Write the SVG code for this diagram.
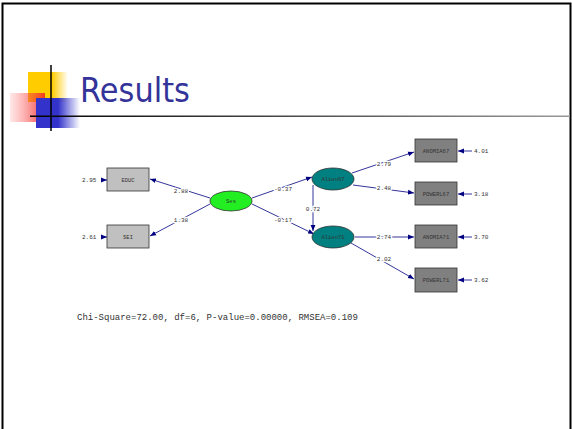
<svg xmlns="http://www.w3.org/2000/svg" width="572" height="429" viewBox="0 0 572 429">
<defs>
<linearGradient id="gy" x1="0" x2="1" y1="0" y2="0"><stop offset="0" stop-color="#ffcc00"/><stop offset="0.6" stop-color="#ffcc00"/><stop offset="1" stop-color="#ffcc00" stop-opacity="0"/></linearGradient>
<linearGradient id="gr" x1="0" x2="1" y1="0" y2="0"><stop offset="0" stop-color="#ff6666" stop-opacity="0.15"/><stop offset="1" stop-color="#ee2222" stop-opacity="0.85"/></linearGradient>
<linearGradient id="gb" x1="0" x2="1" y1="0" y2="0"><stop offset="0" stop-color="#3333cc"/><stop offset="0.5" stop-color="#3333cc"/><stop offset="1" stop-color="#3333cc" stop-opacity="0"/></linearGradient>
<linearGradient id="gl" x1="0" x2="1" y1="0" y2="0"><stop offset="0" stop-color="#000"/><stop offset="1" stop-color="#999"/></linearGradient>
<marker id="ah" viewBox="0 0 10 10" refX="10" refY="5" markerWidth="6" markerHeight="6" orient="auto" markerUnits="userSpaceOnUse"><path d="M0,1 L10,5 L0,9 z" fill="#000080"/></marker>
<style>
.lbl{font-family:"Liberation Mono",monospace;font-size:5.5px;fill:#333;text-anchor:middle}
.pl{font-family:"Liberation Mono",monospace;font-size:6px;fill:#333;text-anchor:middle;stroke:#fff;stroke-width:2.5px;paint-order:stroke}
.err{font-family:"Liberation Mono",monospace;font-size:6px;fill:#333}
.c line{stroke:#000080;stroke-width:0.8;marker-end:url(#ah)}
.bl{fill:#c0c0c0;stroke:#333;stroke-width:0.8}
.bd{fill:#808080;stroke:#333;stroke-width:0.8}
</style>
</defs>
<rect width="572" height="429" fill="#fff"/>
<path d="M2.5,429 V3.5 H570.5 V429" fill="none" stroke="#000" stroke-width="2"/>
<g id="deco">
<rect x="28" y="72" width="40" height="30" fill="url(#gy)"/>
<rect x="10" y="93" width="35" height="29" fill="url(#gr)"/>
<rect x="36" y="98" width="44" height="30" fill="url(#gb)"/>
<line x1="51" y1="65" x2="51" y2="131" stroke="#000" stroke-width="1.5"/>
<rect x="30" y="115.5" width="540" height="1.5" fill="url(#gl)"/>
</g>
<text id="title" x="80" y="102" font-family="'DejaVu Sans',sans-serif" font-size="34" fill="#333399" textLength="110" lengthAdjust="spacingAndGlyphs">Results</text>
<g class="c" id="connectors">
<line x1="101" y1="180" x2="107" y2="180"/>
<line x1="101" y1="237" x2="107" y2="237"/>
<line x1="472" y1="151" x2="458" y2="151"/>
<line x1="472" y1="194" x2="458" y2="194"/>
<line x1="472" y1="237" x2="458" y2="237"/>
<line x1="472" y1="280" x2="458" y2="280"/>
<line x1="210" y1="198" x2="150" y2="179"/>
<line x1="210" y1="204" x2="150" y2="236"/>
<line x1="252" y1="198" x2="312" y2="177"/>
<line x1="252" y1="204" x2="314" y2="234"/>
<line x1="313" y1="185" x2="313" y2="231"/>
<line x1="352" y1="173" x2="414" y2="152"/>
<line x1="353" y1="185" x2="414" y2="193"/>
<line x1="355" y1="237" x2="414" y2="237"/>
<line x1="351" y1="243" x2="414" y2="279"/>
<text class="pl" x="181" y="193">2.88</text>
<text class="pl" x="181" y="222">1.38</text>
<text class="pl" x="283" y="191">-0.37</text>
<text class="pl" x="283" y="222">-0.17</text>
<text class="pl" x="313" y="211">0.72</text>
<text class="pl" x="384" y="166">2.79</text>
<text class="pl" x="384" y="190">2.48</text>
<text class="pl" x="384" y="239">2.74</text>
<text class="pl" x="384" y="261">2.02</text>
</g>
<text class="err" x="82" y="182">2.95</text>
<text class="err" x="82" y="239">2.61</text>
<text class="err" x="474" y="153">4.01</text>
<text class="err" x="474" y="196">3.18</text>
<text class="err" x="474" y="239">3.70</text>
<text class="err" x="474" y="282">3.62</text>
<g id="EDUC"><rect class="bl" x="107" y="168" width="42" height="23"/><text class="lbl" x="128" y="181.5">EDUC</text></g>
<g id="SEI"><rect class="bl" x="107" y="225" width="42" height="23"/><text class="lbl" x="128" y="238.5">SEI</text></g>
<g id="Ses"><ellipse cx="231" cy="201" rx="21" ry="10" fill="#22ee22" stroke="#333" stroke-width="0.8"/><text class="lbl" x="231" y="203">Ses</text></g>
<g id="Alien67"><ellipse cx="333" cy="179" rx="21" ry="11" fill="#008080" stroke="#333" stroke-width="0.8"/><text class="lbl" x="333" y="181">Alien67</text></g>
<g id="Alien71"><ellipse cx="333" cy="237" rx="21" ry="11" fill="#008080" stroke="#333" stroke-width="0.8"/><text class="lbl" x="333" y="239">Alien71</text></g>
<g id="ANOMIA67"><rect class="bd" x="415" y="139" width="42" height="23"/><text class="lbl" x="436" y="152.5">ANOMIA67</text></g>
<g id="POWERL67"><rect class="bd" x="415" y="182" width="42" height="23"/><text class="lbl" x="436" y="195.5">POWERL67</text></g>
<g id="ANOMIA71"><rect class="bd" x="415" y="225" width="42" height="23"/><text class="lbl" x="436" y="238.5">ANOMIA71</text></g>
<g id="POWERL71"><rect class="bd" x="415" y="268" width="42" height="24"/><text class="lbl" x="436" y="282">POWERL71</text></g>
<text x="77" y="320" font-family="'Liberation Mono',monospace" font-size="9" fill="#333">Chi-Square=72.00, df=6, P-value=0.00000, RMSEA=0.109</text>
</svg>
